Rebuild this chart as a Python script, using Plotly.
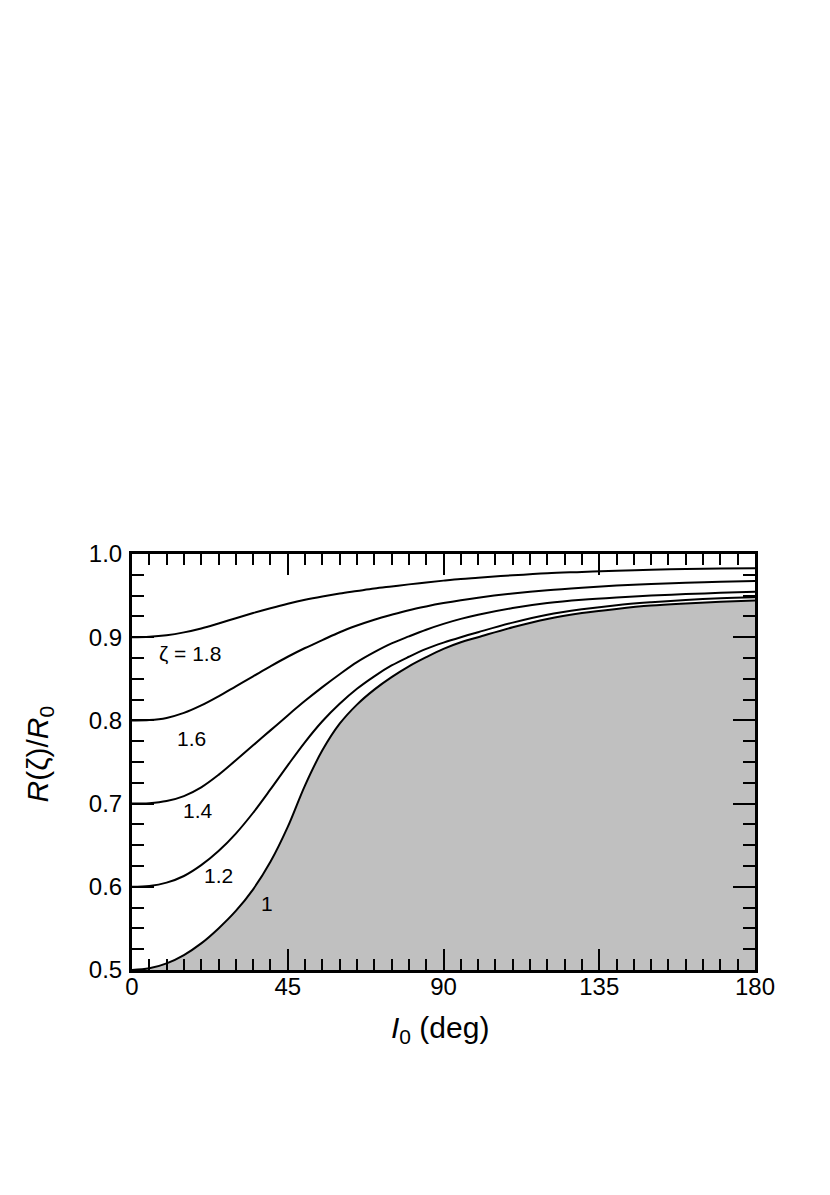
import plotly.graph_objects as go

# inclination I0 (deg) at which the curves were read
incl = [0, 5, 10, 15, 20, 25, 30, 35, 40, 45, 50, 55, 60, 65, 70, 75, 80, 85, 90, 95, 100,
        110, 120, 130, 140, 150, 160, 170, 180]

# R(zeta)/R0 for each zeta
r_z10 = [0.500, 0.502, 0.508, 0.518, 0.532, 0.550, 0.571, 0.597, 0.630, 0.672, 0.722,
         0.764, 0.796, 0.819, 0.837, 0.852, 0.865, 0.876, 0.886, 0.894, 0.900,
         0.912, 0.922, 0.929, 0.934, 0.938, 0.9405, 0.9425, 0.944]
r_z12 = [0.600, 0.601, 0.605, 0.613, 0.626, 0.643, 0.664, 0.689, 0.717, 0.746, 0.774,
         0.799, 0.820, 0.838, 0.853, 0.866, 0.8765, 0.886, 0.8935, 0.900, 0.906,
         0.9175, 0.927, 0.9335, 0.9385, 0.942, 0.9448, 0.9468, 0.948]
r_z14 = [0.700, 0.7005, 0.703, 0.709, 0.7195, 0.7345, 0.752, 0.770, 0.788, 0.806, 0.8235,
         0.840, 0.8555, 0.870, 0.882, 0.8925, 0.901, 0.909, 0.916, 0.922, 0.927,
         0.935, 0.941, 0.945, 0.9478, 0.950, 0.9518, 0.9533, 0.9547]
r_z16 = [0.800, 0.8004, 0.803, 0.809, 0.818, 0.829, 0.841, 0.853, 0.865, 0.8765, 0.887,
         0.8965, 0.906, 0.914, 0.921, 0.927, 0.9325, 0.937, 0.941, 0.9445, 0.9475,
         0.9525, 0.9565, 0.9595, 0.962, 0.964, 0.9655, 0.9665, 0.9675]
r_z18 = [0.900, 0.9006, 0.9024, 0.9058, 0.9105, 0.9165, 0.9228, 0.929, 0.9348, 0.9402, 0.945,
         0.949, 0.9525, 0.9555, 0.9585, 0.961, 0.9635, 0.9658, 0.968, 0.970, 0.9715,
         0.9745, 0.977, 0.9785, 0.980, 0.981, 0.982, 0.9825, 0.983]

curve_labels = ["1", "1.2", "1.4", "1.6", "\u03b6 = 1.8"]
label_x = [38.9, 24.9, 19.2, 17.1, 16.8]
label_y = [0.580, 0.614, 0.692, 0.7785, 0.8806]

x_ticks = [0, 45, 90, 135, 180]
y_ticks = [0.5, 0.6, 0.7, 0.8, 0.9, 1.0]

font = "Liberation Sans Narrow, Liberation Sans, Arial, sans-serif"

fig = go.Figure()

# shaded region below zeta = 1
fig.add_trace(go.Scatter(x=incl, y=r_z10, mode="lines", line=dict(color="black", width=2, shape="spline"),
                         fill="tozeroy", fillcolor="#c0c0c0", showlegend=False))
for ys in [r_z12, r_z14, r_z16, r_z18]:
    fig.add_trace(go.Scatter(x=incl, y=ys, mode="lines",
                             line=dict(color="black", width=2, shape="spline"), showlegend=False))

for t, lx, ly in zip(curve_labels, label_x, label_y):
    fig.add_annotation(x=lx, y=ly, text=t, showarrow=False,
                       font=dict(family=font, size=21, color="black"))

# axis titles
fig.add_annotation(xref="paper", yref="paper", x=0.494, y=-0.144, xanchor="center", yanchor="middle",
                   text="<i>I</i><sub>0</sub> (deg)", showarrow=False,
                   font=dict(family=font, size=30, color="black"))
fig.add_annotation(xref="paper", yref="paper", x=-0.148, y=0.52, xanchor="center", yanchor="middle",
                   text="<i>R</i>(\u03b6)/<i>R</i><sub>0</sub>", textangle=-90, showarrow=False,
                   font=dict(family=font, size=30, color="black"))

fig.update_xaxes(range=[0, 180], tickvals=x_ticks, ticks="inside", ticklen=21, tickwidth=2,
                 tickcolor="black", showline=True, linewidth=3, linecolor="black", mirror="allticks",
                 showgrid=False, zeroline=False, ticklabelstandoff=-7,
                 tickfont=dict(family=font, size=24, color="black"),
                 minor=dict(dtick=5, ticks="inside", ticklen=11, tickwidth=2, tickcolor="black", showgrid=False))
fig.update_yaxes(range=[0.5, 1.0], tickvals=y_ticks, tickformat=".1f", ticks="inside", ticklen=22,
                 tickwidth=2, tickcolor="black", showline=True, linewidth=3, linecolor="black",
                 mirror="allticks", showgrid=False, zeroline=False, ticklabelstandoff=2,
                 tickfont=dict(family=font, size=24, color="black"),
                 minor=dict(dtick=0.025, ticks="inside", ticklen=12, tickwidth=2, tickcolor="black", showgrid=False))

# the page body adds an 8 px offset, so the margins are shifted to compensate
fig.update_layout(width=830, height=1195, plot_bgcolor="white", paper_bgcolor="white",
                  margin=dict(l=124, r=83, t=546, b=233, autoexpand=False))

fig.write_html("out.html")
